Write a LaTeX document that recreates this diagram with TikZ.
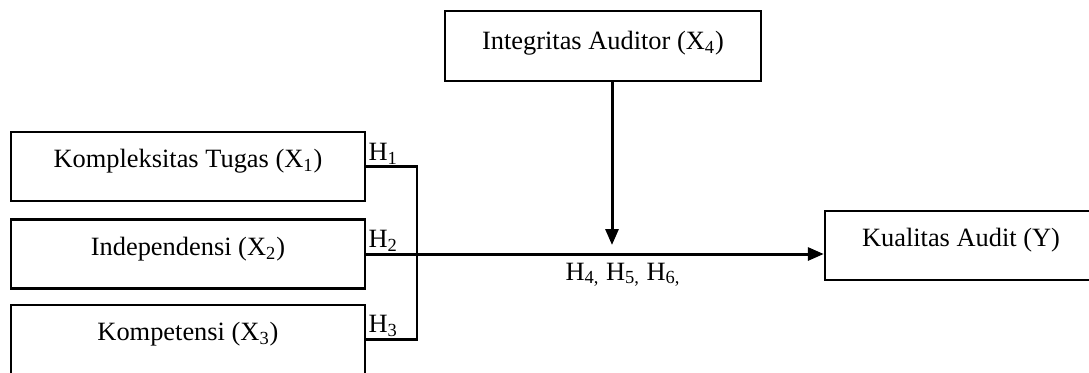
\documentclass[tikz,border=0pt]{standalone}
\usepackage{fontspec}
\setmainfont{Liberation Serif}
\usetikzlibrary{arrows.meta}

\tikzset{
  varbox/.style={shape=rectangle, draw, line width=1.2pt, minimum width=#1, minimum height=34.5pt, inner sep=0pt},
  boxtext/.style={anchor=base, font=\fontsize{13.2}{15}\selectfont},
  hlabel/.style={anchor=south west, inner sep=1pt, font=\fontsize{13.2}{15}\selectfont},
  link/.style={line width=1.1pt},
  flow/.style={line width=1.5pt, -{Triangle[length=8pt, width=6.5pt]}}
}

\begin{document}
\begin{tikzpicture}[x=0.5pt, y=-0.5pt]
			\useasboundingbox (0, 0) rectangle (1089, 372);
			\begin{scope}
			\clip (0, 0) rectangle (1089, 372);
			% variable boxes
			\node[varbox=177pt](X1) at (188, 166.5){} node[boxtext] at ([yshift=-18.5pt]X1.north){Kompleksitas Tugas (X\textsubscript{1})};
			\node[varbox=177pt](X2) at (188, 254){} node[boxtext] at ([yshift=-18.5pt]X2.north){Independensi (X\textsubscript{2})};
			\node[varbox=177pt](X3) at (188, 339.5){} node[boxtext] at ([yshift=-18.5pt]X3.north){Kompetensi (X\textsubscript{3})};
			\node[varbox=158pt, minimum height=35pt](X4) at (603, 46){} node[boxtext] at ([yshift=-20pt]X4.north){Integritas Auditor (X\textsubscript{4})};
			\node[varbox=136pt](Y) at (961, 245.5){} node[boxtext] at ([yshift=-18.5pt]Y.north){Kualitas Audit (Y)};
			\end{scope}
			\coordinate (join) at (417, 254);
			\coordinate (mod) at (612, 245);
			% connectors
			\draw[link] (X1.east) -| (join);
			\draw[link] (X3.east) -| (join);
			\draw[flow] (X2.east) -- (X2.east -| Y.west);
			\draw[flow] (X4.south -| mod) -- (mod);
			% hypothesis labels
			\node[hlabel] (H1) at (X1.east){H\textsubscript{1}};
			\node[hlabel] (H2) at (X2.east){H\textsubscript{2}};
			\node[hlabel] (H3) at (X3.east){H\textsubscript{3}};
			\node[anchor=base, font=\fontsize{13.2}{15}\selectfont] (H456) at (623, 280){H\textsubscript{4,} H\textsubscript{5,} H\textsubscript{6,}};
		\end{tikzpicture}
\end{document}
